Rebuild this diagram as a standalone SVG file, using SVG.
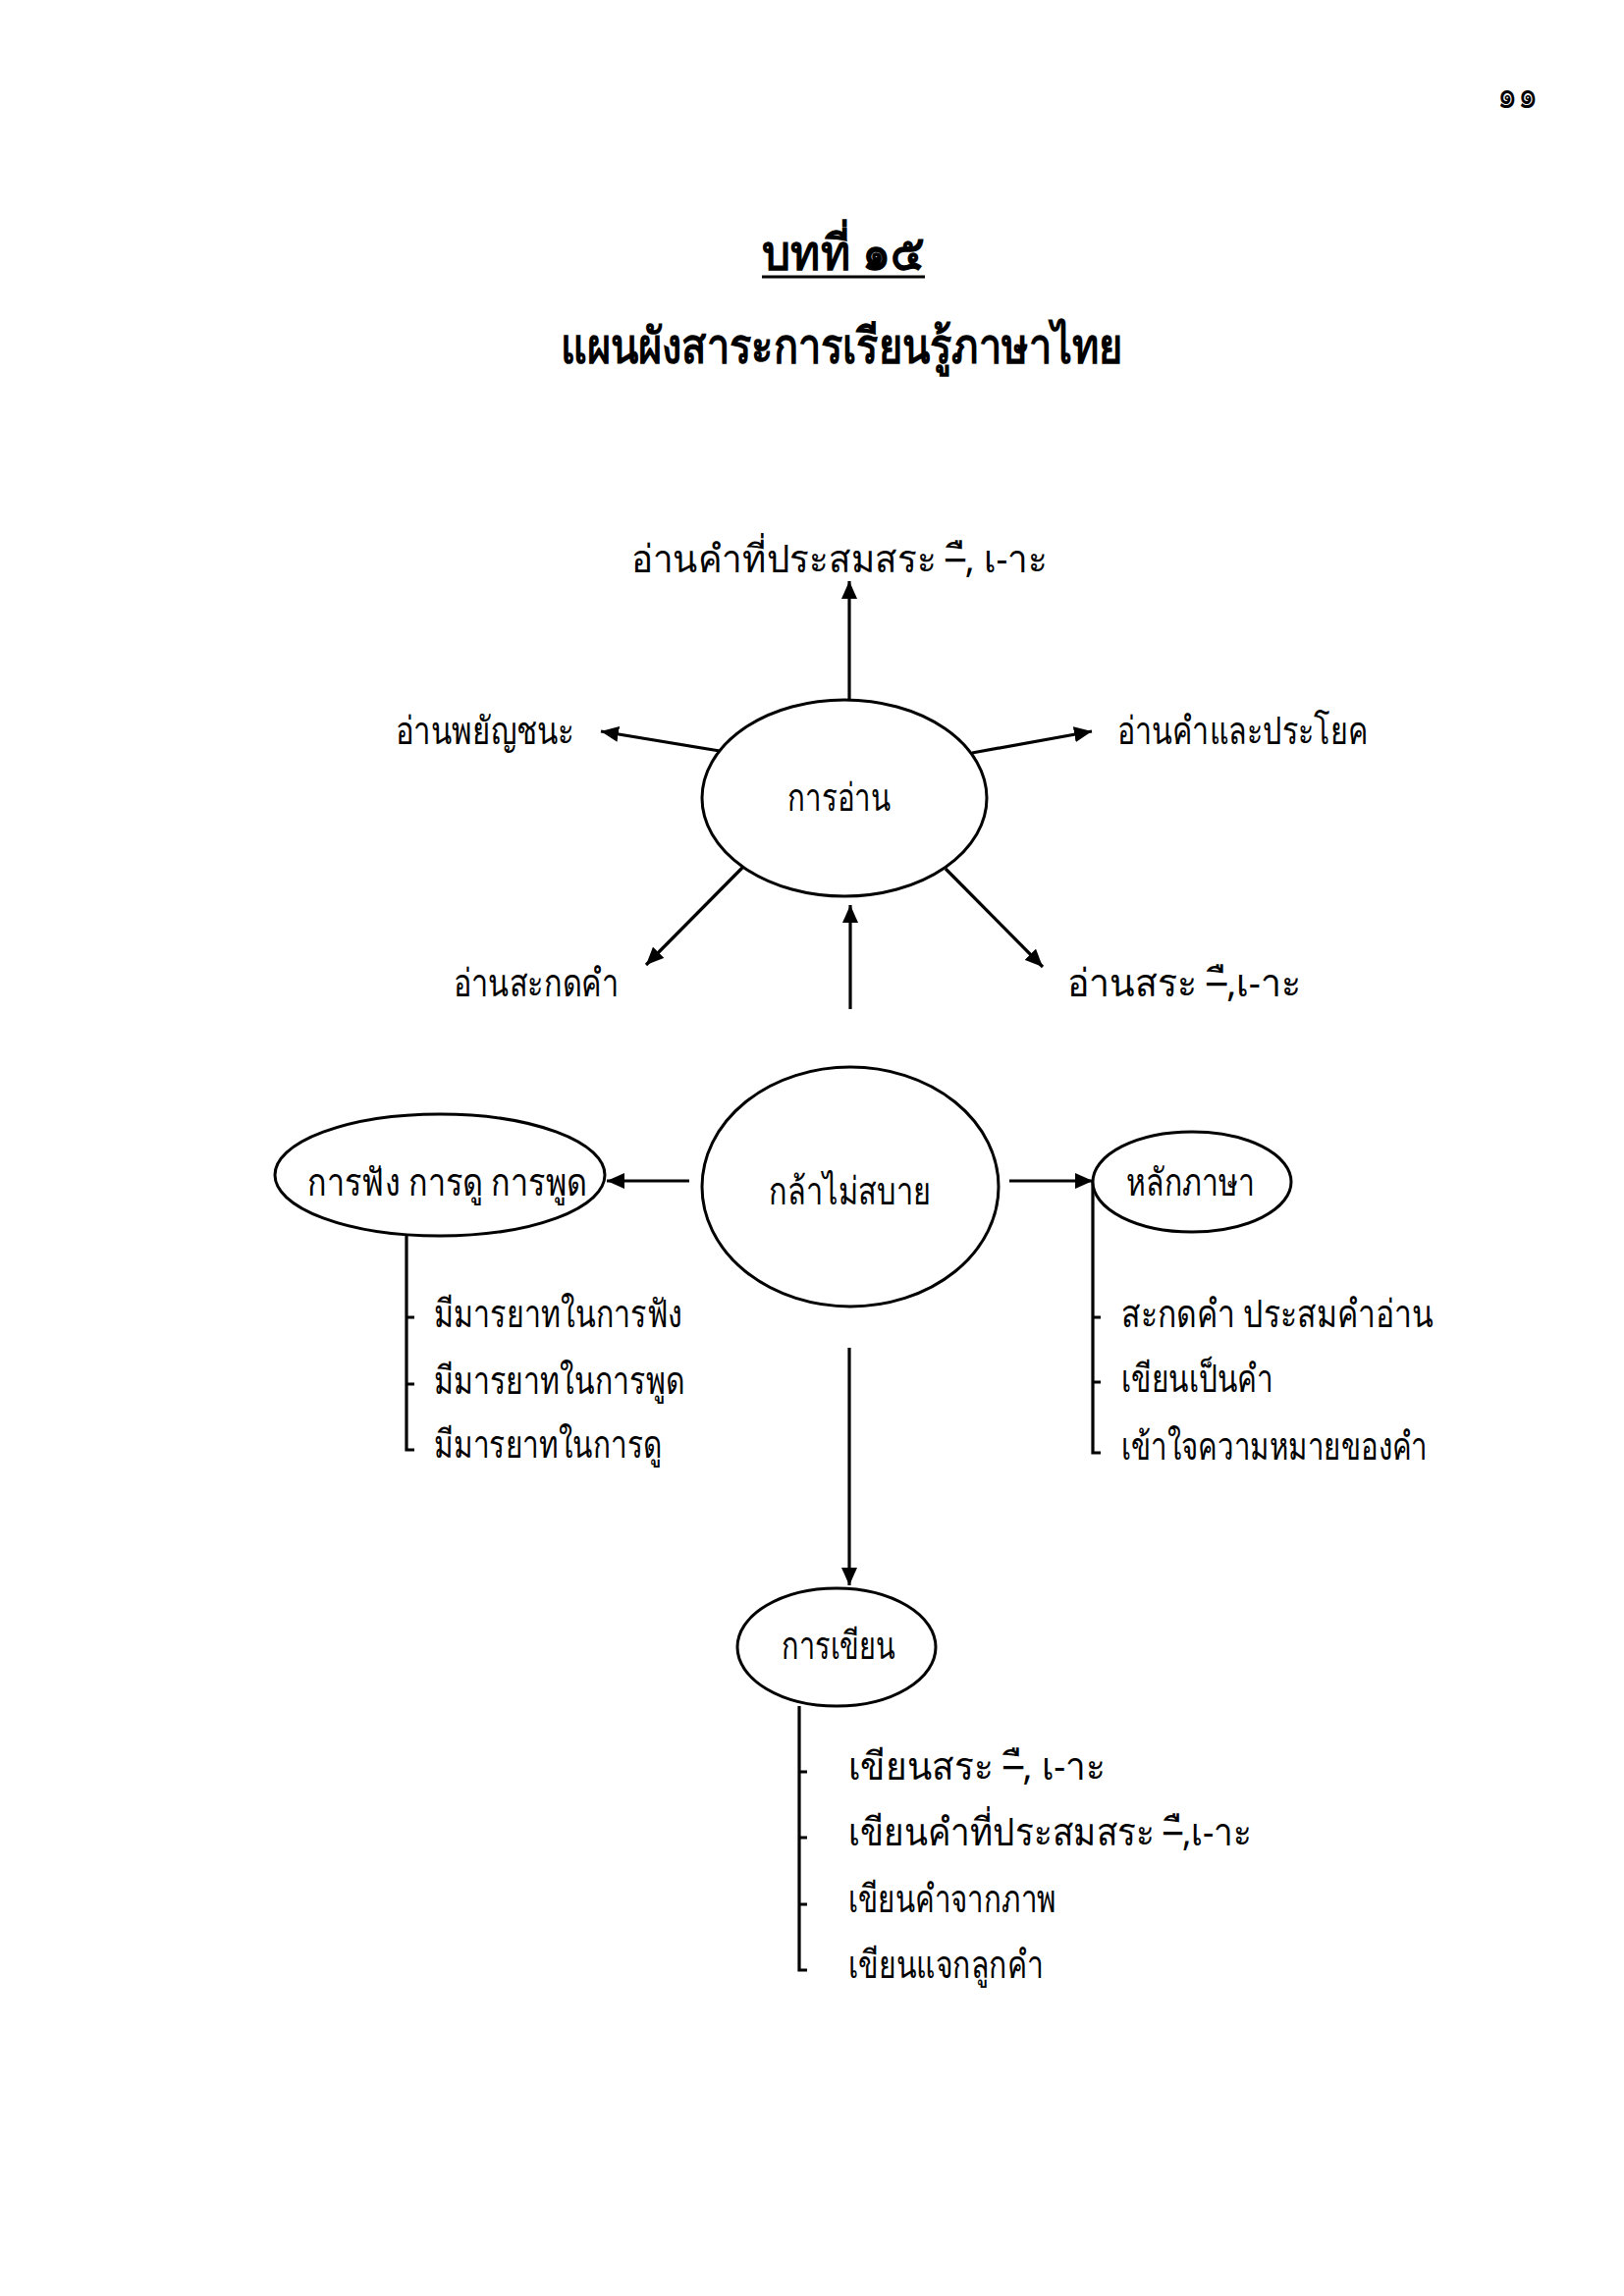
<svg xmlns="http://www.w3.org/2000/svg" width="1654" height="2339" viewBox="0 0 1654 2339">
<style>
text{font-family:"Noto Sans","DejaVu Sans",sans-serif;fill:#000;font-size:39px}
.t{font-size:50px;font-weight:bold}
.n{fill:#fff;stroke:#000;stroke-width:3}
.c{fill:none;stroke:#000;stroke-width:3.2}
</style>
<defs>
<marker id="ah" markerUnits="userSpaceOnUse" markerWidth="20" markerHeight="16" refX="18" refY="8" orient="auto"><path d="M0,0 L18,8 L0,16 z" fill="#000"/></marker>
</defs>
<rect width="1654" height="2339" fill="#fff"/>
<text x="1525" y="110" textLength="41" lengthAdjust="spacingAndGlyphs">๑๑</text>
<text class="t" x="776" y="275" textLength="166" lengthAdjust="spacingAndGlyphs">บทที่ ๑๕</text>
<line x1="776" y1="282" x2="942" y2="282" stroke="#000" stroke-width="3"/>
<text class="t" x="571" y="370" textLength="572" lengthAdjust="spacingAndGlyphs">แผนผังสาระการเรียนรู้ภาษาไทย</text>
<g id="connectors">
<line class="c" x1="865" y1="713" x2="865" y2="592" marker-end="url(#ah)"/>
<line class="c" x1="733" y1="765" x2="612" y2="745" marker-end="url(#ah)"/>
<line class="c" x1="990" y1="767" x2="1112" y2="745" marker-end="url(#ah)"/>
<line class="c" x1="757" y1="883" x2="658" y2="983" marker-end="url(#ah)"/>
<line class="c" x1="963" y1="885" x2="1062" y2="985" marker-end="url(#ah)"/>
<line class="c" x1="866" y1="1028" x2="866" y2="922" marker-end="url(#ah)"/>
<line class="c" x1="702" y1="1203" x2="618" y2="1203" marker-end="url(#ah)"/>
<line class="c" x1="1028" y1="1203" x2="1113" y2="1203" marker-end="url(#ah)"/>
<line class="c" x1="865" y1="1373" x2="865" y2="1615" marker-end="url(#ah)"/>
<path class="c" d="M414,1258 V1477 H422 M414,1342 h8 M414,1410 h8"/>
<path class="c" d="M1113,1203 V1480 H1121 M1113,1342 h8 M1113,1408 h8"/>
<path class="c" d="M814,1738 V2007 H822 M814,1805 h8 M814,1872 h8 M814,1940 h8"/>
</g>
<g id="reading">
<ellipse class="n" cx="860" cy="813" rx="145" ry="100"/>
<text x="802" y="826" textLength="105" lengthAdjust="spacingAndGlyphs">การอ่าน</text>
</g>
<g id="read-combined"><text x="643" y="583" textLength="424" lengthAdjust="spacingAndGlyphs">อ่านคำที่ประสมสระ –ื, เ-าะ</text></g>
<g id="read-consonants"><text x="403" y="758" textLength="182" lengthAdjust="spacingAndGlyphs">อ่านพยัญชนะ</text></g>
<g id="read-sentences"><text x="1138" y="758" textLength="255" lengthAdjust="spacingAndGlyphs">อ่านคำและประโยค</text></g>
<g id="read-spelling"><text x="462" y="1015" textLength="168" lengthAdjust="spacingAndGlyphs">อ่านสะกดคำ</text></g>
<g id="read-vowels"><text x="1087" y="1015" textLength="238" lengthAdjust="spacingAndGlyphs">อ่านสระ –ื,เ-าะ</text></g>
<g id="center">
<ellipse class="n" cx="866" cy="1209" rx="151" ry="122"/>
<text x="783" y="1227" textLength="165" lengthAdjust="spacingAndGlyphs">กล้าไม่สบาย</text>
</g>
<g id="listening">
<ellipse class="n" cx="448" cy="1197" rx="168" ry="62"/>
<text x="313" y="1218" textLength="285" lengthAdjust="spacingAndGlyphs">การฟัง การดู การพูด</text>
<text x="442" y="1352" textLength="253" lengthAdjust="spacingAndGlyphs">มีมารยาทในการฟัง</text>
<text x="442" y="1420" textLength="255" lengthAdjust="spacingAndGlyphs">มีมารยาทในการพูด</text>
<text x="442" y="1485" textLength="232" lengthAdjust="spacingAndGlyphs">มีมารยาทในการดู</text>
</g>
<g id="grammar">
<ellipse class="n" cx="1214" cy="1204" rx="101" ry="51"/>
<text x="1147" y="1218" textLength="131" lengthAdjust="spacingAndGlyphs">หลักภาษา</text>
<text x="1142" y="1352" textLength="318" lengthAdjust="spacingAndGlyphs">สะกดคำ ประสมคำอ่าน</text>
<text x="1142" y="1418" textLength="155" lengthAdjust="spacingAndGlyphs">เขียนเป็นคำ</text>
<text x="1142" y="1487" textLength="312" lengthAdjust="spacingAndGlyphs">เข้าใจความหมายของคำ</text>
</g>
<g id="writing">
<ellipse class="n" cx="852" cy="1678" rx="101" ry="60"/>
<text x="796" y="1690" textLength="116" lengthAdjust="spacingAndGlyphs">การเขียน</text>
<text x="864" y="1813" textLength="262" lengthAdjust="spacingAndGlyphs">เขียนสระ –ื, เ-าะ</text>
<text x="864" y="1880" textLength="411" lengthAdjust="spacingAndGlyphs">เขียนคำที่ประสมสระ –ื,เ-าะ</text>
<text x="864" y="1948" textLength="212" lengthAdjust="spacingAndGlyphs">เขียนคำจากภาพ</text>
<text x="864" y="2015" textLength="199" lengthAdjust="spacingAndGlyphs">เขียนแจกลูกคำ</text>
</g>
</svg>
